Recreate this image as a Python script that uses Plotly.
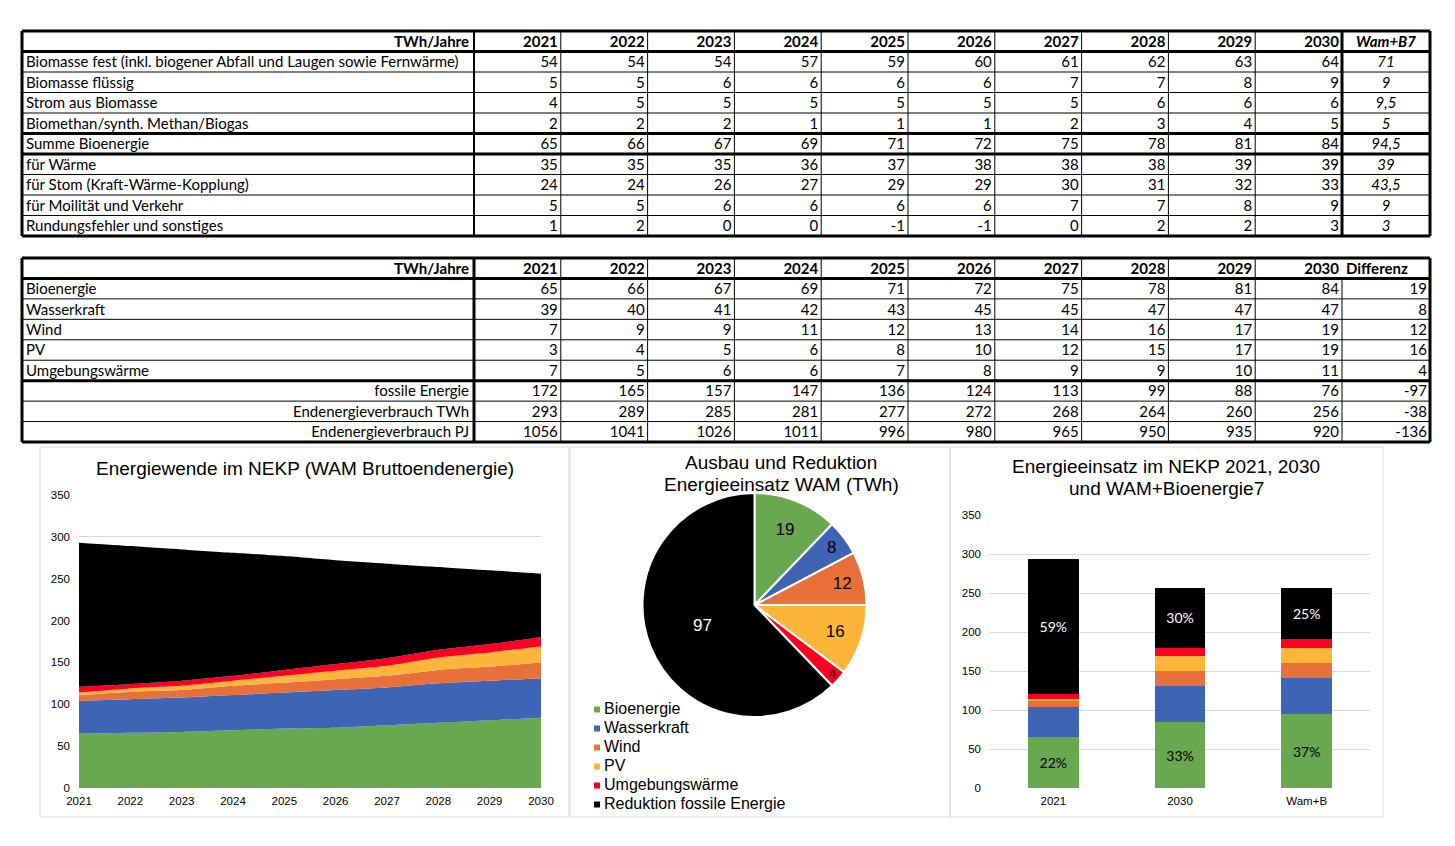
import plotly.graph_objects as go

# page body has an 8px margin: size the figure so it fits the 1455x846 window
OFF = 8
W, H = 1455 - 2 * OFF, 846 - 2 * OFF

# ---------------- data ----------------
years = [2021, 2022, 2023, 2024, 2025, 2026, 2027, 2028, 2029, 2030]

t1_labels = [
    "Biomasse fest (inkl. biogener Abfall und Laugen sowie Fernwärme)",
    "Biomasse flüssig",
    "Strom aus Biomasse",
    "Biomethan/synth. Methan/Biogas",
    "Summe Bioenergie",
    "für Wärme",
    "für Stom (Kraft-Wärme-Kopplung)",
    "für Moilität und Verkehr",
    "Rundungsfehler und sonstiges",
]
biomasse_fest = [54, 54, 54, 57, 59, 60, 61, 62, 63, 64]
biomasse_fluessig = [5, 5, 6, 6, 6, 6, 7, 7, 8, 9]
strom_biomasse = [4, 5, 5, 5, 5, 5, 5, 6, 6, 6]
biomethan = [2, 2, 2, 1, 1, 1, 2, 3, 4, 5]
summe_bio = [65, 66, 67, 69, 71, 72, 75, 78, 81, 84]
fuer_waerme = [35, 35, 35, 36, 37, 38, 38, 38, 39, 39]
fuer_strom = [24, 24, 26, 27, 29, 29, 30, 31, 32, 33]
fuer_mobilitaet = [5, 5, 6, 6, 6, 6, 7, 7, 8, 9]
rundung = [1, 2, 0, 0, -1, -1, 0, 2, 2, 3]
wam_b7 = [71, 9, 9.5, 5, 94.5, 39, 43.5, 9, 3]

t2_labels = ["Bioenergie", "Wasserkraft", "Wind", "PV", "Umgebungswärme",
             "fossile Energie", "Endenergieverbrauch TWh", "Endenergieverbrauch PJ"]
bioenergie = [65, 66, 67, 69, 71, 72, 75, 78, 81, 84]
wasserkraft = [39, 40, 41, 42, 43, 45, 45, 47, 47, 47]
wind = [7, 9, 9, 11, 12, 13, 14, 16, 17, 19]
pv = [3, 4, 5, 6, 8, 10, 12, 15, 17, 19]
umgebung = [7, 5, 6, 6, 7, 8, 9, 9, 10, 11]
fossil = [172, 165, 157, 147, 136, 124, 113, 99, 88, 76]
endenergie_twh = [293, 289, 285, 281, 277, 272, 268, 264, 260, 256]
endenergie_pj = [1056, 1041, 1026, 1011, 996, 980, 965, 950, 935, 920]
differenz = [19, 8, 12, 16, 4, -97, -38, -136]

pie_labels = ["Bioenergie", "Wasserkraft", "Wind", "PV", "Umgebungswärme",
              "Reduktion fossile Energie"]
pie_values = [19, 8, 12, 16, 4, 97]

bar_cats = ["2021", "2030", "Wam+B"]
bar_bio = [65, 84, 94.5]
bar_wasser = [39, 47, 47]
bar_wind = [7, 19, 19]
bar_pv = [3, 19, 19]
bar_umg = [7, 11, 11]
bar_fossil = [172, 76, 65.5]
bar_bio_pct = ["22%", "33%", "37%"]
bar_fossil_pct = ["59%", "30%", "25%"]

# ---------------- styles ----------------
C_GREEN = "#6aa84f"
C_BLUE = "#3e64b5"
C_ORANGE = "#e8703b"
C_YELLOW = "#fdb53a"
C_RED = "#ff0022"
C_BLACK = "#000000"
colors = [C_GREEN, C_BLUE, C_ORANGE, C_YELLOW, C_RED, C_BLACK]
TFONT = "Lato"
CFONT = "Liberation Sans"


def px(x):
    return (x - OFF) / W


def py(y):
    return 1 - (y - OFF) / H


fig = go.Figure()
shapes = []

# ---------------- tables (text traces on hidden axes, units = pixels / rows) ----------------
TX0, TX1 = 22, 1430
colw = [452] + [86.8] * 10 + [88]
edges = [0]
for w_ in colw:
    edges.append(edges[-1] + w_)
TABLE_W = edges[-1]
PAD = 2  # pixels of slack so thick borders are not clipped
YSHIFT = 0.08  # small downward nudge of cell text inside its row


def table_axes(name_x, name_y, top_px, bot_px, n_rows):
    row_px = (bot_px - top_px) / n_rows
    padr = PAD / row_px
    xa = dict(domain=[px(TX0 - PAD), px(TX1 + PAD)], range=[-PAD, TABLE_W + PAD],
              visible=False, fixedrange=True, anchor=name_y)
    ya = dict(domain=[py(bot_px + PAD), py(top_px - PAD)],
              range=[n_rows - 0.5 + padr, -0.5 - padr],
              visible=False, fixedrange=True, anchor=name_x)
    return xa, ya


def add_text(xs, ys, texts, pos, xa, ya):
    fig.add_trace(go.Scatter(
        x=xs, y=[v + YSHIFT for v in ys], text=texts, mode="text", textposition=pos,
        textfont=dict(family=TFONT, size=15, color="black"),
        xaxis=xa, yaxis=ya, showlegend=False, hoverinfo="skip", cliponaxis=False))


def grid_line(xref, yref, x0, x1, y0, y1, w):
    shapes.append(dict(type="line", xref=xref, yref=yref, x0=x0, x1=x1, y0=y0, y1=y1,
                       line=dict(color="black", width=w)))


RPAD = 3   # right-aligned text inset
LPAD = 4   # left-aligned text inset

# ---- table 1 ----
T1_TOP, T1_BOT = 31, 236
t1_rows = [biomasse_fest, biomasse_fluessig, strom_biomasse, biomethan, summe_bio,
           fuer_waerme, fuer_strom, fuer_mobilitaet, rundung]
n1 = len(t1_rows) + 1
xa3, ya3 = table_axes("x3", "y3", T1_TOP, T1_BOT, n1)

rx, ry, rt = [edges[1] - RPAD - 2], [0], ["<b>TWh/Jahre</b>"]
for i, y in enumerate(years):
    rx.append(edges[i + 2] - RPAD); ry.append(0); rt.append(f"<b>{y}</b>")
    for r, row in enumerate(t1_rows):
        rx.append(edges[i + 2] - RPAD); ry.append(r + 1); rt.append(str(row[i]))
add_text(rx, ry, rt, "middle left", "x3", "y3")
add_text([edges[0] + LPAD] * len(t1_labels), list(range(1, n1)), t1_labels, "middle right", "x3", "y3")
cx = (edges[11] + edges[12]) / 2
add_text([cx] * n1, list(range(n1)),
         ["<b><i>Wam+B7</i></b>"] + [f"<i>{str(v).replace('.', ',')}</i>" for v in wam_b7],
         "middle center", "x3", "y3")

for k in range(n1 + 1):
    yb = k - 0.5
    grid_line("x3", "y3", 0, TABLE_W, yb, yb, 3 if k in (0, 1, 5, 6, n1) else 1)
for j, e in enumerate(edges):
    wv = 3 if j in (0, 11, 12) else (2 if j == 1 else 1)
    grid_line("x3", "y3", e, e, -0.5, n1 - 0.5, wv)

# ---- table 2 ----
T2_TOP, T2_BOT = 258, 442
t2_rows = [bioenergie, wasserkraft, wind, pv, umgebung, fossil, endenergie_twh, endenergie_pj]
n2 = len(t2_rows) + 1
xa4, ya4 = table_axes("x4", "y4", T2_TOP, T2_BOT, n2)

rx, ry, rt = [edges[1] - RPAD - 2], [0], ["<b>TWh/Jahre</b>"]
for i, y in enumerate(years):
    rx.append(edges[i + 2] - RPAD); ry.append(0); rt.append(f"<b>{y}</b>")
    for r, row in enumerate(t2_rows):
        rx.append(edges[i + 2] - RPAD); ry.append(r + 1); rt.append(str(row[i]))
for r, v in enumerate(differenz):
    rx.append(edges[12] - RPAD); ry.append(r + 1); rt.append(str(v))
for r in range(5, 8):
    rx.append(edges[1] - RPAD - 2); ry.append(r + 1); rt.append(t2_labels[r])
add_text(rx, ry, rt, "middle left", "x4", "y4")
add_text([edges[0] + LPAD] * 5 + [edges[11] + 4], [1, 2, 3, 4, 5, 0],
         t2_labels[:5] + ["<b>Differenz</b>"], "middle right", "x4", "y4")

for k in range(n2 + 1):
    yb = k - 0.5
    grid_line("x4", "y4", 0, TABLE_W, yb, yb, 3 if k in (0, 1, 6, n2) else 1)
for j, e in enumerate(edges):
    wv = 3 if j in (0, 1, 12) else 1
    y_start = 0.5 if j == 11 else -0.5
    grid_line("x4", "y4", e, e, y_start, n2 - 0.5, wv)

# ---------------- area chart ----------------
area_series = [bioenergie, wasserkraft, wind, pv, umgebung, fossil]
for s, c in zip(area_series, colors):
    fig.add_trace(go.Scatter(
        x=years, y=s, stackgroup="one", mode="lines", fillcolor=c,
        line=dict(width=0, color=c, shape="spline", smoothing=0.5),
        showlegend=False, xaxis="x", yaxis="y", hoverinfo="y"))

# ---------------- pie ----------------
fig.add_trace(go.Pie(
    labels=pie_labels, values=pie_values, sort=False, direction="clockwise",
    rotation=0, marker=dict(colors=colors, line=dict(color="white", width=2)),
    textinfo="value", textposition="inside", insidetextorientation="horizontal",
    textfont=dict(family=CFONT, size=17, color=["black"] * 5 + ["white"]),
    domain=dict(x=[px(642.5), px(866.5)], y=[py(717), py(493)]),
    showlegend=False))

# pie key: small squares + labels, one row per slice
key_rows = list(range(len(pie_labels)))
fig.add_trace(go.Scatter(
    x=[0] * len(pie_labels), y=key_rows, mode="markers",
    marker=dict(symbol="square", size=6, color=colors),
    xaxis="x5", yaxis="y5", showlegend=False, hoverinfo="skip", cliponaxis=False))
fig.add_trace(go.Scatter(
    x=[7] * len(pie_labels), y=key_rows, text=pie_labels, mode="text",
    textposition="middle right",
    textfont=dict(family=CFONT, size=16, color="black"),
    xaxis="x5", yaxis="y5", showlegend=False, hoverinfo="skip", cliponaxis=False))

# ---------------- stacked bars ----------------
bar_series = [bar_bio, bar_wasser, bar_wind, bar_pv, bar_umg, bar_fossil]
for k, (s, c) in enumerate(zip(bar_series, colors)):
    kw = {}
    if k == 0:
        kw = dict(text=bar_bio_pct, textposition="inside", insidetextanchor="middle",
                  textfont=dict(family=TFONT, size=14, color="black"))
    elif k == 5:
        kw = dict(text=bar_fossil_pct, textposition="inside", insidetextanchor="middle",
                  textfont=dict(family=TFONT, size=14, color="white"))
    fig.add_trace(go.Bar(x=bar_cats, y=s, marker=dict(color=c, line=dict(width=0)),
                         width=0.4, showlegend=False, xaxis="x2", yaxis="y2",
                         textangle=0, **kw))

# ---------------- layout ----------------
tick_font = dict(family=CFONT, size=11.5, color="black")

for x0, x1 in [(40, 569), (570, 950), (950, 1383)]:
    shapes.append(dict(type="rect", xref="paper", yref="paper", x0=px(x0), x1=px(x1),
                       y0=py(817), y1=py(447), line=dict(color="#d9d9d9", width=1)))

title_font = dict(family=CFONT, size=19, color="black")
title_lines = [
    ("Energiewende im NEKP (WAM Bruttoendenergie)", 305, 468),
    ("Ausbau und Reduktion", 781, 462),
    ("Energieeinsatz WAM (TWh)", 781, 484),
    ("Energieeinsatz im NEKP 2021, 2030", 1166, 466),
    ("und WAM+Bioenergie7", 1166, 488),
]
annotations = [
    dict(text=t, x=px(xc), y=py(yc), xref="paper", yref="paper", showarrow=False,
         xanchor="center", yanchor="middle", font=title_font)
    for t, xc, yc in title_lines
]

fig.update_layout(
    width=W, height=H, margin=dict(l=0, r=0, t=0, b=0, autoexpand=False),
    paper_bgcolor="white", plot_bgcolor="white",
    barmode="stack", showlegend=False,
    shapes=shapes, annotations=annotations,
    xaxis=dict(domain=[px(79), px(541)], range=[2021, 2030], tickvals=years,
               showgrid=False, zeroline=False, showline=False, tickfont=tick_font,
               ticks="", anchor="y", automargin=False, ticklabelstandoff=4),
    yaxis=dict(domain=[py(788), py(495)], range=[0, 350], dtick=50, gridcolor="#d9d9d9",
               zeroline=False, showline=False, tickfont=tick_font, anchor="x",
               ticklabelstandoff=8, automargin=False),
    xaxis2=dict(domain=[px(990), px(1370)], showgrid=False, zeroline=False,
                showline=False, tickfont=tick_font, ticks="", anchor="y2",
                type="category", automargin=False, ticklabelstandoff=4),
    yaxis2=dict(domain=[py(788), py(515)], range=[0, 350], dtick=50, gridcolor="#d9d9d9",
                zeroline=False, showline=False, tickfont=tick_font, anchor="x2",
                ticklabelstandoff=8, automargin=False),
    xaxis3=xa3, yaxis3=ya3, xaxis4=xa4, yaxis4=ya4,
    xaxis5=dict(domain=[px(597), px(797)], range=[0, 200], visible=False,
                fixedrange=True, anchor="y5"),
    yaxis5=dict(domain=[py(814), py(700)], range=[5.5, -0.5], visible=False,
                fixedrange=True, anchor="x5"),
)

fig.write_html("out.html")
